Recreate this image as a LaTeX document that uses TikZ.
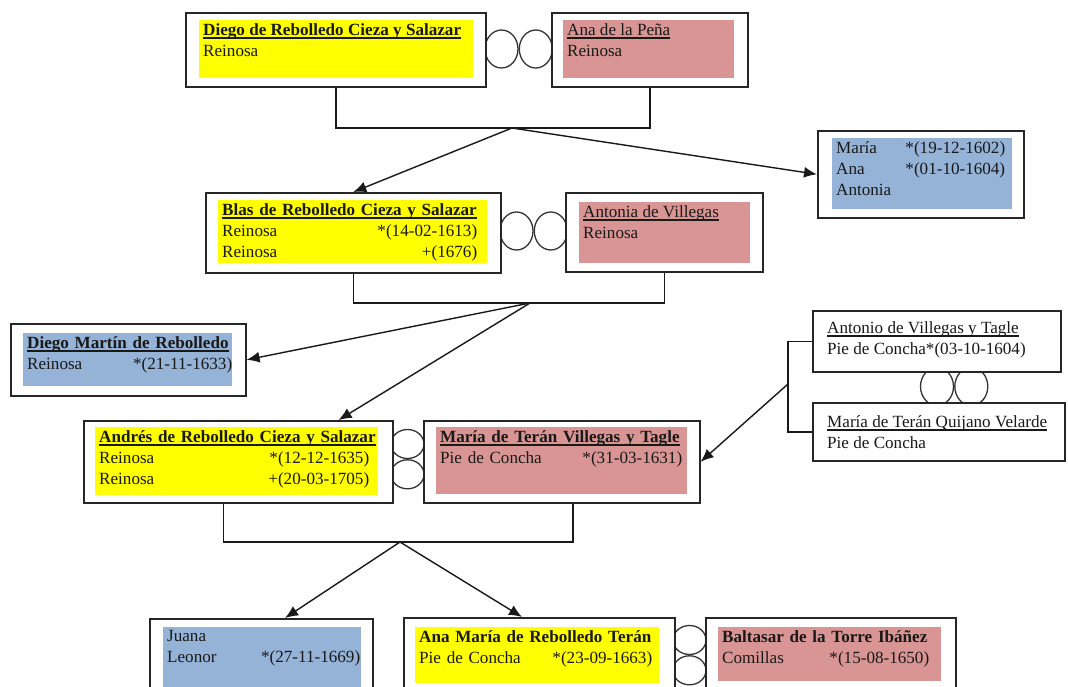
\documentclass[tikz,border=0pt]{standalone}
\usepackage{fontspec}
\setmainfont{Liberation Serif}
\usetikzlibrary{
  arrows.meta,
  calc,
  positioning,
  shapes.geometric
}
\definecolor{famyellow}{RGB}{255,255,0}
\definecolor{fampink}{RGB}{217,149,148}
\definecolor{famblue}{RGB}{149,179,215}
\definecolor{inkdark}{RGB}{25,25,25}

\newsavebox{\namebox}
\newcommand{\uname}[1]{\sbox{\namebox}{#1}\rlap{\rule[-3.5pt]{\wd\namebox}{1.4pt}}\usebox{\namebox}}

\begin{document}
\begin{tikzpicture}[x=1pt, y=-1pt,
  font={\fontsize{17.1}{21}\selectfont}, text=inkdark,
  pbox/.style={draw=black!85, line width=1.6pt, fill=white, anchor=north west, inner sep=0pt},
  panel/.style={anchor=north west, inner sep=0pt},
  ptext/.style={anchor=north west, inner sep=0pt, align=left},
  hring/.style={draw=black!80, line width=1.3pt, ellipse, inner sep=0pt, minimum width=33pt, minimum height=38pt},
  vring/.style={hring, minimum height=29pt},
  link/.style={draw=black!90, line width=1.4pt},
  arr/.style={link, -{Latex[length=13pt, width=11pt]}}]
  \useasboundingbox (0,0) rectangle (1068,686);
  \clip (0,0) rectangle (1068,686);
  \fill[white] (0,0) rectangle (1068,686);

  % marriage rings
  \node[hring] (r1a) at (501.5,49) {};
  \node[hring, right=0pt of r1a] (r1b) {};
  \node[hring] (r2a) at (516.5,231) {};
  \node[hring, right=0pt of r2a] (r2b) {};
  \node[vring] (r3a) at (407.5,444) {};
  \node[vring, below=0pt of r3a] (r3b) {};
  \node[hring] (r4a) at (937,386.5) {};
  \node[hring, right=0pt of r4a] (r4b) {};
  \node[vring] (r5a) at (689.5,640) {};
  \node[vring, below=0pt of r5a] (r5b) {};

  % first couple
  \node[pbox, minimum width=300pt, minimum height=74pt] (diego-box) at (185,12) {};
  \node[panel, fill=famyellow, minimum width=274pt, minimum height=58pt] (diego) at (199,20) {};
  \node[ptext] (diego-txt) at (203,23) {\uname{\textbf{Diego de Rebolledo Cieza y Salazar}}\\Reinosa};
  \node[pbox, minimum width=196pt, minimum height=74pt] (ana-box) at (551,12) {};
  \node[panel, fill=fampink, minimum width=171pt, minimum height=58pt] (ana) at (563,20) {};
  \node[ptext] (ana-txt) at (567,23) {\uname{Ana de la Peña}\\Reinosa};

  % daughters
  \node[pbox, minimum width=206pt, minimum height=87pt] (hijas-box) at (817,130) {};
  \node[panel, fill=famblue, minimum width=180pt, minimum height=71pt] (hijas) at (832,138) {};
  \node[ptext, text width=169pt] (hijas-txt) at (836,141) {María\hfill*(19-12-1602)\\Ana\hfill*(01-10-1604)\\Antonia};

  % second couple
  \node[pbox, minimum width=295pt, minimum height=80pt] (blas-box) at (205,192) {};
  \node[panel, fill=famyellow, minimum width=269pt, minimum height=63pt] (blas) at (218,200) {};
  \node[ptext, text width=255pt] (blas-txt) at (222,203) {\uname{\textbf{Blas de Rebolledo Cieza y Salazar}}\\Reinosa\hfill*(14-02-1613)\\Reinosa\hfill+(1676)};
  \node[pbox, minimum width=197pt, minimum height=79pt] (antonia-box) at (565,192) {};
  \node[panel, fill=fampink, minimum width=171pt, minimum height=61pt] (antonia) at (579,202) {};
  \node[ptext] (antonia-txt) at (583,205) {\uname{Antonia de Villegas}\\Reinosa};

  \node[pbox, minimum width=235pt, minimum height=72pt] (dmartin-box) at (10,323) {};
  \node[panel, fill=famblue, minimum width=209pt, minimum height=53pt] (dmartin) at (23,333) {};
  \node[ptext, text width=205pt] (dmartin-txt) at (27,336) {\uname{\textbf{Diego Martín de Rebolledo}}\\Reinosa\hfill*(21-11-1633)};

  % third couple
  \node[pbox, minimum width=309pt, minimum height=82pt] (andres-box) at (83,420) {};
  \node[panel, fill=famyellow, minimum width=283pt, minimum height=68pt] (andres) at (95,427) {};
  \node[ptext, text width=270pt] (andres-txt) at (99,430) {\uname{\textbf{Andrés de Rebolledo Cieza y Salazar}}\\Reinosa\hfill*(12-12-1635)\\Reinosa\hfill+(20-03-1705)};
  \node[pbox, minimum width=276pt, minimum height=82pt] (mteran-box) at (423,420) {};
  \node[panel, fill=fampink, minimum width=251pt, minimum height=67pt] (mteran) at (436,427) {};
  \node[ptext, text width=242pt] (mteran-txt) at (440,430) {\uname{\textbf{María de Terán Villegas y Tagle}}\\Pie de Concha\hfill*(31-03-1631)};

  % her parents
  \node[pbox, minimum width=248pt, minimum height=61pt] (avt-box) at (812,310) {};
  \node[ptext] (avt-txt) at (827,321) {\uname{Antonio de Villegas y Tagle}\\Pie de Concha*(03-10-1604)};
  \node[pbox, minimum width=252pt, minimum height=58pt] (mtqv-box) at (812,402) {};
  \node[ptext] (mtqv-txt) at (827,415) {\uname{María de Terán Quijano Velarde}\\Pie de Concha};

  % fourth generation
  \node[pbox, minimum width=223pt, minimum height=90pt] (juana-box) at (149,618) {};
  \node[panel, fill=famblue, minimum width=198pt, minimum height=70pt] (juana) at (163,627) {};
  \node[ptext, text width=193pt] (juana-txt) at (167,630) {Juana\\Leonor\hfill*(27-11-1669)};
  \node[pbox, minimum width=271pt, minimum height=90pt] (anamaria-box) at (403,617) {};
  \node[panel, fill=famyellow, minimum width=244pt, minimum height=56pt] (anamaria) at (415,627) {};
  \node[ptext, text width=233pt] (anamaria-txt) at (419,630) {\mbox{\textbf{Ana María de Rebolledo Terán}}\\Pie de Concha\hfill*(23-09-1663)};
  \node[pbox, minimum width=250pt, minimum height=90pt] (baltasar-box) at (705,617) {};
  \node[panel, fill=fampink, minimum width=223pt, minimum height=54pt] (baltasar) at (718,627) {};
  \node[ptext, text width=207pt] (baltasar-txt) at (722,630) {\mbox{\textbf{Baltasar de la Torre Ibáñez}}\\Comillas\hfill*(15-08-1650)};

  % descent lines
  \coordinate (fork1) at (512,128);
  \draw[link] (diego-box.south) |- (fork1) -| (ana-box.south);
  \draw[arr] (fork1) -- (blas-box.north);
  \draw[arr] (fork1) -- (hijas-box.west);

  \coordinate (fork2) at (530,303);
  \draw[link] (blas-box.south) |- (fork2) -| (antonia-box.south);
  \draw[arr] (fork2) -- (dmartin-box.east);
  \draw[arr] (fork2) -- ($(andres-box.north east)+(-55,0)$);

  \coordinate (fork3) at (400,542);
  \draw[link] ($(andres-box.south)+(-15,0)$) |- (fork3) -| ($(mteran-box.south)+(11,0)$);
  \draw[arr] (fork3) -- ($(juana-box.north west)+(136,0)$);
  \draw[arr] (fork3) -- ($(anamaria-box.north west)+(119,0)$);

  \coordinate (fork4) at (788,384);
  \draw[link] (avt-box.west) -| (fork4) |- (mtqv-box.west);
  \draw[arr] (fork4) -- (mteran-box.east);
\end{tikzpicture}
\end{document}
